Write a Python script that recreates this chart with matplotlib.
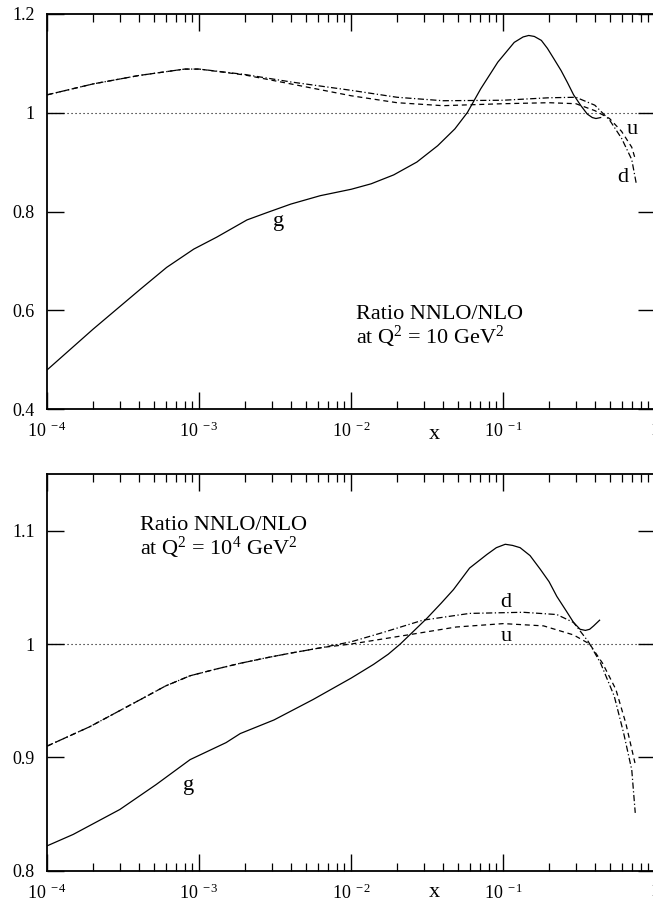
import numpy as np
import matplotlib.pyplot as plt

plt.rcParams['font.family'] = ['Liberation Serif', 'DejaVu Serif']
plt.rcParams['mathtext.fontset'] = 'custom'
plt.rcParams['mathtext.rm'] = 'Liberation Serif'
plt.rcParams['mathtext.it'] = 'Liberation Serif:italic'

# ---------------------------------------------------------------- Q^2 = 10 GeV^2
g10_x = [1e-4, 2e-4, 4.1e-4, 6.1e-4, 9.2e-4, 1.3e-3, 2.06e-3, 2.8e-3, 4e-3, 6.25e-3,
         1e-2, 1.35e-2, 1.9e-2, 2.7e-2, 3.7e-2, 4.8e-2, 5.8e-2, 7.1e-2, 9.2e-2, 0.118,
         0.135, 0.147, 0.16, 0.178, 0.195, 0.215, 0.24, 0.264, 0.29, 0.324,
         0.357, 0.385, 0.407, 0.437]
g10_y = [0.480, 0.562, 0.643, 0.687, 0.724, 0.748, 0.783, 0.798, 0.815, 0.832,
         0.845, 0.856, 0.874, 0.900, 0.933, 0.967, 1.000, 1.048, 1.102, 1.142,
         1.153, 1.156, 1.154, 1.146, 1.130, 1.109, 1.085, 1.061, 1.036, 1.014,
         0.997, 0.990, 0.988, 0.990]

u10_x = [1e-4, 2e-4, 4e-4, 8e-4, 1e-3, 2e-3, 4e-3, 1e-2, 2e-2, 4e-2,
         0.1, 0.2, 0.3, 0.4, 0.5, 0.6, 0.7, 0.74]
u10_y = [1.036, 1.058, 1.075, 1.088, 1.088, 1.076, 1.058, 1.034, 1.020, 1.014,
         1.018, 1.020, 1.018, 1.004, 0.988, 0.962, 0.930, 0.905]

d10_x = [1e-4, 2e-4, 4e-4, 8e-4, 1e-3, 2e-3, 4e-3, 1e-2, 2e-2, 4e-2,
         0.1, 0.2, 0.3, 0.4, 0.5, 0.6, 0.7, 0.75]
d10_y = [1.036, 1.058, 1.075, 1.088, 1.088, 1.077, 1.062, 1.045, 1.031, 1.024,
         1.025, 1.030, 1.031, 1.015, 0.985, 0.948, 0.905, 0.856]

# ---------------------------------------------------------------- Q^2 = 10^4 GeV^2
g4_x = [1e-4, 1.48e-4, 3e-4, 5.2e-4, 8.7e-4, 1.5e-3, 1.86e-3, 3.1e-3, 5.6e-3, 1e-2,
        1.4e-2, 1.75e-2, 2.1e-2, 2.6e-2, 3.16e-2, 3.9e-2, 4.7e-2, 6e-2, 7.8e-2, 0.09,
        0.103, 0.115, 0.129, 0.15, 0.175, 0.2, 0.225, 0.26, 0.29, 0.32,
        0.347, 0.37, 0.393, 0.43]
g4_y = [0.822, 0.832, 0.854, 0.876, 0.898, 0.913, 0.921, 0.933, 0.951, 0.970,
        0.982, 0.991, 1.000, 1.012, 1.023, 1.036, 1.048, 1.067, 1.079, 1.085,
        1.088, 1.087, 1.085, 1.078, 1.066, 1.055, 1.042, 1.029, 1.019, 1.013,
        1.012, 1.013, 1.016, 1.021]

u4_x = [1e-4, 1.9e-4, 4.1e-4, 6e-4, 8.7e-4, 1.3e-3, 1.86e-3, 2.8e-3, 4e-3, 6.5e-3,
        1e-2, 2.35e-2, 4.9e-2, 0.1, 0.184, 0.29, 0.37, 0.45, 0.55, 0.64, 0.735]
u4_y = [0.910, 0.927, 0.951, 0.963, 0.972, 0.978, 0.983, 0.988, 0.992, 0.997,
        1.000, 1.008, 1.015, 1.018, 1.016, 1.008, 1.000, 0.983, 0.960, 0.930, 0.895]

d4_x = [1e-4, 1.9e-4, 4.1e-4, 6e-4, 8.7e-4, 1.3e-3, 1.86e-3, 2.8e-3, 4e-3, 6.5e-3,
        1e-2, 1.6e-2, 2.95e-2, 6e-2, 0.135, 0.225, 0.29, 0.363, 0.437, 0.537,
        0.62, 0.70, 0.738]
d4_y = [0.910, 0.927, 0.951, 0.963, 0.972, 0.978, 0.983, 0.988, 0.992, 0.997,
        1.002, 1.010, 1.021, 1.027, 1.028, 1.026, 1.019, 1.002, 0.983, 0.954,
        0.921, 0.889, 0.851]

xticks = [1e-4, 1e-3, 1e-2, 1e-1, 1]
xtick_labels = [r'$10^{\ -4}$', r'$10^{\ -3}$', r'$10^{\ -2}$', r'$10^{\ -1}$', '1']

DASH = (0, (4, 3))
DASHDOT = (0, (5, 2, 1, 2))
DOT = (0, (1, 2.6))


def setup_axes(ax, ylim, yticks, ylabels, xlab_y):
    ax.set_xscale('log')
    ax.set_xlim(1e-4, 1)
    ax.set_ylim(*ylim)
    ax.axhline(1.0, color='black', lw=0.8, ls=DOT)
    ax.set_xticks(xticks, xtick_labels)
    ax.set_yticks(yticks, ylabels)
    ax.tick_params(which='both', direction='in', top=True, right=True,
                   labelsize=13, width=1.0, colors='black')
    ax.tick_params(which='major', length=12, pad=9)
    ax.tick_params(axis='x', which='minor', length=6, width=0.9)
    ax.tick_params(axis='y', which='minor', length=0)
    for s in ax.spines.values():
        s.set_linewidth(1.3)
    ax.text(0.035, xlab_y, 'x', fontsize=16, ha='center', va='top', clip_on=False)


fig = plt.figure(figsize=(6.53, 9.07), dpi=100)
left, width = 47.3 / 653, 608 / 653
ax1 = fig.add_axes([left, 1 - 409.3 / 907, width, (409.3 - 13.7) / 907])
ax2 = fig.add_axes([left, 1 - 870.7 / 907, width, (870.7 - 474) / 907])

# top panel
ax1.plot(g10_x, g10_y, color='black', lw=0.9)
ax1.plot(u10_x, u10_y, color='black', lw=0.9, ls=DASH)
ax1.plot(d10_x, d10_y, color='black', lw=0.9, ls=DASHDOT)
setup_axes(ax1, (0.4, 1.2), [0.4, 0.6, 0.8, 1.0, 1.2],
           ['0.4', '0.6', '0.8', '1', '1.2'], 0.369)
ax1.text(3.3e-3, 0.78, 'g', fontsize=16, ha='center', va='center')
ax1.text(0.71, 0.965, 'u', fontsize=16, ha='center', va='center')
ax1.text(0.61, 0.868, 'd', fontsize=16, ha='center', va='center')
ax1.text(0.0107, 0.565, 'Ratio NNLO/NLO\nat Q$^2$ = 10 GeV$^2$', fontsize=16,
         ha='left', va='center', linespacing=1.0)

# bottom panel
ax2.plot(g4_x, g4_y, color='black', lw=0.9)
ax2.plot(u4_x, u4_y, color='black', lw=0.9, ls=DASH)
ax2.plot(d4_x, d4_y, color='black', lw=0.9, ls=DASHDOT)
setup_axes(ax2, (0.8, 1.15), [0.8, 0.9, 1.0, 1.1],
           ['0.8', '0.9', '1', '1.1'], 0.789)
ax2.text(8.5e-4, 0.875, 'g', fontsize=16, ha='center', va='center')
ax2.text(0.104, 1.037, 'd', fontsize=16, ha='center', va='center')
ax2.text(0.104, 1.007, 'u', fontsize=16, ha='center', va='center')
ax2.text(4.1e-4, 1.093, 'Ratio NNLO/NLO\nat Q$^2$ = 10$^4$ GeV$^2$', fontsize=16,
         ha='left', va='center', linespacing=1.0)

fig.savefig('out.png', dpi=100)
